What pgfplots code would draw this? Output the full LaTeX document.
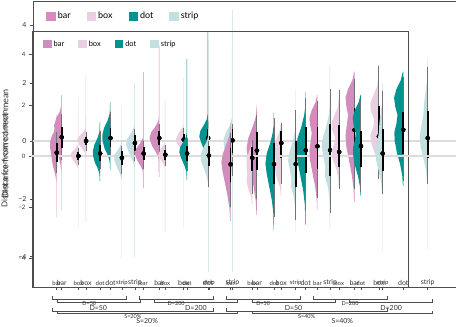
\documentclass[border=0pt]{standalone}
\usepackage{fontspec}
\setmainfont{Lato}
\usepackage{pgfplots}
\usepackage{pgfplotstable}
\pgfplotsset{compat=1.18}
\usetikzlibrary{calc}

\definecolor{barc}{HTML}{D38CBE}
\definecolor{boxc}{HTML}{E9CFE1}
\definecolor{dotc}{HTML}{009390}
\definecolor{stripc}{HTML}{C4DFE0}
\definecolor{framec}{HTML}{4D4D4D}
\definecolor{refc}{HTML}{DCDCDC}
\definecolor{textc}{HTML}{333333}

% point, 95% and 66% intervals per condition
\pgfplotstableread{
k  m     lo95  hi95  lo66  hi66
0  0.13  -0.67 0.93  -0.25 0.50
1  0.00  -0.35 0.30  -0.15 0.15
2  0.10  -0.50 1.00  -0.20 0.45
3  -0.07 -0.70 0.40  -0.35 0.20
4  0.10  -0.50 0.60  -0.15 0.35
5  0.05  -0.40 0.45  -0.15 0.25
6  0.10  -0.60 0.70  -0.20 0.40
7  0.02  -1.20 0.60  -0.40 0.40
8  -0.33 -2.00 0.90  -1.00 0.30
9  -0.07 -1.50 0.62  -0.60 0.35
10 -0.32 -2.40 1.50  -1.10 0.50
11 -0.32 -2.50 1.80  -1.20 0.60
12 0.38  -1.65 2.15  -0.50 1.15
13 0.16  -1.30 2.60  -0.45 1.20
14 0.39  -1.40 2.20  -0.45 1.00
15 0.10  -1.50 2.55  -0.60 1.05
}\intervals

% half eye: density drawn to the left of category #1
\newcommand{\halfeye}[3]{%
  \addplot[fill=#2, draw=none, forget plot]
    table[row sep=\\, x expr={#1-0.88*\thisrow{w}}, y=y] {y w\\ #3};}

\newcommand{\alldata}{%
  \addplot[refc, line width=1.6pt, forget plot] coordinates {(-1.2,0) (19.5,0)};
  \halfeye{0}{barc}{-2.4 0\\ -2.4 0.02\\ -1.0 0.02\\ -0.8 0.06\\ -0.55 0.14\\ -0.3 0.22\\ 0 0.28\\ 0.3 0.34\\ 0.55 0.35\\ 0.8 0.25\\ 1.0 0.1\\ 1.2 0.03\\ 1.6 0.02\\ 1.6 0\\}
  \halfeye{1}{boxc}{-2.8 0\\ -2.8 0.02\\ -0.5 0.02\\ -0.35 0.1\\ -0.15 0.3\\ 0.02 0.42\\ 0.15 0.35\\ 0.3 0.14\\ 0.45 0.03\\ 2.3 0.02\\ 2.3 0\\}
  \halfeye{2}{dotc}{-1.0 0\\ -1.0 0.02\\ -0.7 0.04\\ -0.5 0.12\\ -0.25 0.28\\ 0 0.37\\ 0.2 0.38\\ 0.45 0.3\\ 0.7 0.14\\ 0.95 0.04\\ 1.35 0.02\\ 1.35 0\\}
  \halfeye{3}{stripc}{-4.0 0\\ -4.0 0.02\\ -0.9 0.02\\ -0.7 0.1\\ -0.45 0.25\\ -0.15 0.4\\ 0.05 0.38\\ 0.25 0.2\\ 0.45 0.06\\ 0.6 0.02\\ 2.0 0.02\\ 2.0 0\\}
  \halfeye{4}{barc}{-1.25 0\\ -1.25 0.02\\ -0.6 0.04\\ -0.4 0.15\\ -0.15 0.35\\ 0.1 0.46\\ 0.3 0.38\\ 0.5 0.18\\ 0.7 0.04\\ 0.9 0.02\\ 3.3 0.02\\ 3.3 0\\}
  \halfeye{5}{boxc}{-3.0 0\\ -3.0 0.02\\ -0.5 0.02\\ -0.3 0.1\\ -0.1 0.3\\ 0.08 0.36\\ 0.25 0.25\\ 0.45 0.07\\ 0.6 0.02\\ 2.2 0.02\\ 2.2 0\\}
  \halfeye{6}{dotc}{-0.95 0\\ -0.95 0.02\\ -0.6 0.04\\ -0.35 0.15\\ -0.1 0.3\\ 0.15 0.41\\ 0.35 0.36\\ 0.55 0.2\\ 0.75 0.06\\ 0.95 0.02\\ 3.8 0.02\\ 3.8 0\\}
  \halfeye{7}{stripc}{-4.55 0\\ -4.55 0.02\\ -1.3 0.02\\ -0.9 0.08\\ -0.5 0.25\\ -0.2 0.4\\ 0.05 0.42\\ 0.3 0.3\\ 0.55 0.12\\ 0.8 0.03\\ 4.55 0.02\\ 4.55 0\\}
  \halfeye{8}{barc}{-2.55 0\\ -2.55 0.02\\ -2.1 0.05\\ -1.6 0.15\\ -1.1 0.28\\ -0.6 0.42\\ -0.25 0.48\\ 0.1 0.4\\ 0.45 0.22\\ 0.8 0.06\\ 1.1 0.02\\ 1.3 0\\}
  \halfeye{9}{boxc}{-1.9 0\\ -1.9 0.02\\ -1.6 0.06\\ -1.3 0.2\\ -1.0 0.3\\ -0.7 0.26\\ -0.4 0.3\\ -0.1 0.3\\ 0.15 0.18\\ 0.4 0.05\\ 0.65 0.02\\ 0.65 0\\}
  \halfeye{10}{dotc}{-2.9 0\\ -2.9 0.02\\ -2.2 0.04\\ -1.7 0.12\\ -1.2 0.25\\ -0.7 0.38\\ -0.3 0.45\\ 0.1 0.38\\ 0.5 0.2\\ 0.9 0.07\\ 1.2 0.02\\ 1.7 0.02\\ 1.7 0\\}
  \halfeye{11}{stripc}{-3.0 0\\ -3.0 0.02\\ -2.0 0.03\\ -1.6 0.1\\ -1.2 0.25\\ -0.9 0.22\\ -0.5 0.32\\ -0.2 0.4\\ 0.15 0.33\\ 0.5 0.18\\ 0.9 0.06\\ 1.2 0.02\\ 2.6 0.02\\ 2.6 0\\}
  \halfeye{12}{barc}{-2.1 0\\ -2.1 0.02\\ -1.7 0.04\\ -1.2 0.12\\ -0.7 0.25\\ -0.2 0.38\\ 0.2 0.42\\ 0.6 0.35\\ 0.9 0.3\\ 1.2 0.38\\ 1.5 0.42\\ 1.8 0.3\\ 2.1 0.1\\ 2.4 0.02\\ 2.4 0\\}
  \halfeye{13}{boxc}{-1.2 0\\ -1.2 0.02\\ -0.9 0.04\\ -0.5 0.15\\ -0.1 0.35\\ 0.2 0.4\\ 0.5 0.25\\ 0.75 0.22\\ 1.05 0.38\\ 1.3 0.4\\ 1.6 0.25\\ 1.9 0.08\\ 2.3 0.02\\ 2.65 0.02\\ 2.65 0\\}
  \halfeye{14}{dotc}{-1.55 0\\ -1.55 0.02\\ -1.2 0.05\\ -0.8 0.15\\ -0.4 0.3\\ 0 0.4\\ 0.3 0.42\\ 0.6 0.32\\ 0.9 0.27\\ 1.2 0.38\\ 1.5 0.43\\ 1.8 0.32\\ 2.1 0.12\\ 2.4 0.02\\ 2.4 0\\}
  \halfeye{15}{stripc}{-3.75 0\\ -3.75 0.02\\ -1.5 0.02\\ -1.0 0.08\\ -0.6 0.2\\ -0.2 0.33\\ 0.15 0.38\\ 0.5 0.3\\ 0.9 0.2\\ 1.3 0.17\\ 1.7 0.1\\ 2.1 0.03\\ 2.9 0.02\\ 2.9 0\\}
  \addplot[only marks, mark=none, forget plot,
    error bars/.cd, y dir=both, y explicit, error mark=none,
    error bar style={draw=black!55, line width=0.9pt}]
    table[x=k, y=m, y error plus expr=\thisrow{hi95}-\thisrow{m},
          y error minus expr=\thisrow{m}-\thisrow{lo95}] {\intervals};
  \addplot[only marks, mark=none, forget plot,
    error bars/.cd, y dir=both, y explicit, error mark=none,
    error bar style={draw=black, line width=1.9pt}]
    table[x=k, y=m, y error plus expr=\thisrow{hi66}-\thisrow{m},
          y error minus expr=\thisrow{m}-\thisrow{lo66}] {\intervals};
  \addplot[only marks, mark=*, mark size=1.9pt, black, forget plot]
    table[x=k, y=m] {\intervals};
}

% nested axis bracket below the panel: from, to, depth, label, font, label gap
\newcommand{\brk}[6]{%
  \coordinate (bA) at ($({axis cs:#1,0}|-{rel axis cs:0,0})+(0pt,-#3)$);
  \coordinate (bB) at ($({axis cs:#2,0}|-{rel axis cs:0,0})+(0pt,-#3)$);
  \draw[framec, line width=0.45pt] ($(bA)+(0pt,3pt)$) -- (bA) -- (bB) -- ($(bB)+(0pt,3pt)$);
  \node[font=#5, text=textc, anchor=north, inner sep=0pt] at ($($(bA)!0.5!(bB)$)+(0pt,-#6)$) {#4};}

\pgfplotsset{
  halfeyes/.style={
    scale only axis, clip=false,
    axis line style={framec, line width=0.7pt},
    tick style={framec, line width=0.5pt},
    major tick length=3pt, tick align=outside, tick pos=left,
    ytick={-4,-2,0,2,4}, yticklabels={−4,−2,0,2,4},
    xtick={0,...,15},
    xticklabels={bar,box,dot,strip,bar,box,dot,strip,bar,box,dot,strip,bar,box,dot,strip},
    xticklabel style={anchor=south, yshift=1pt, text=textc},
    yticklabel style={text=textc},
    ylabel={Distance from correct mean},
    legend image code/.code={\fill[##1] (0pt,-4.5pt) rectangle (9.5pt,4.5pt);},
  }
}

\begin{document}
\begin{tikzpicture}
\path[use as bounding box] (0pt,0pt) rectangle (456pt,327pt);

% full size copy
\begin{axis}[halfeyes,
  at={(33pt,40pt)}, anchor=south west,
  width=424pt, height=286pt,
  xmin=-1.176, xmax=16.2, ymin=-5.052, ymax=4.844,
  ticklabel style={font=\fontsize{7}{8}\selectfont},
  ylabel style={font=\fontsize{9}{10}\selectfont, text=textc, at={(rel axis cs:-0.066,0.5)}, anchor=center},
  legend style={draw=none, fill=none, at={(0.031,0.969)}, anchor=north west,
    legend columns=4, inner sep=0pt, font=\fontsize{9}{10}\selectfont,
    /tikz/every even column/.append style={column sep=14pt}},
]
\alldata
\addlegendimage{fill=barc, draw=none}
\addlegendimage{fill=boxc, draw=none}
\addlegendimage{fill=dotc, draw=none}
\addlegendimage{fill=stripc, draw=none}
\legend{bar,box,dot,strip}
\brk{-0.2}{3.2}{15pt}{D=50}{\fontsize{7}{8}\selectfont}{3pt}
\brk{3.8}{7.2}{15pt}{D=200}{\fontsize{7}{8}\selectfont}{3pt}
\brk{7.8}{11.2}{15pt}{D=50}{\fontsize{7}{8}\selectfont}{3pt}
\brk{11.8}{15.2}{15pt}{D=200}{\fontsize{7}{8}\selectfont}{3pt}
\brk{-0.2}{7.2}{26.5pt}{S=20\%}{\fontsize{7}{8}\selectfont}{5pt}
\brk{7.8}{15.2}{26.5pt}{S=40\%}{\fontsize{7}{8}\selectfont}{5pt}
\end{axis}

% smaller copy drawn over it
\begin{axis}[halfeyes,
  at={(32pt,40pt)}, anchor=south west,
  width=376pt, height=256pt,
  xmin=-1.137, xmax=16.167, ymin=-5.137, ymax=4.902,
  ticklabel style={font=\fontsize{6}{7}\selectfont},
  ylabel style={font=\fontsize{8}{9}\selectfont, text=textc, at={(rel axis cs:-0.073,0.5)}, anchor=center},
  legend style={draw=none, fill=none, at={(0.029,0.971)}, anchor=north west,
    legend columns=4, inner sep=0pt, font=\fontsize{7.5}{8.5}\selectfont,
    /tikz/every even column/.append style={column sep=12pt}},
  legend image code/.code={\fill[#1] (0pt,-4pt) rectangle (8.5pt,4pt);},
]
\alldata
\addlegendimage{fill=barc, draw=none}
\addlegendimage{fill=boxc, draw=none}
\addlegendimage{fill=dotc, draw=none}
\addlegendimage{fill=stripc, draw=none}
\legend{bar,box,dot,strip}
\brk{-0.2}{3.2}{12pt}{D=50}{\fontsize{5.5}{6}\selectfont}{2pt}
\brk{3.8}{7.2}{12pt}{D=200}{\fontsize{5.5}{6}\selectfont}{2pt}
\brk{7.8}{11.2}{12pt}{D=50}{\fontsize{5.5}{6}\selectfont}{2pt}
\brk{11.8}{15.2}{12pt}{D=200}{\fontsize{5.5}{6}\selectfont}{2pt}
\brk{-0.2}{7.2}{24pt}{S=20\%}{\fontsize{5.5}{6}\selectfont}{3pt}
\brk{7.8}{15.2}{24pt}{S=40\%}{\fontsize{5.5}{6}\selectfont}{3pt}
\end{axis}
\end{tikzpicture}
\end{document}
